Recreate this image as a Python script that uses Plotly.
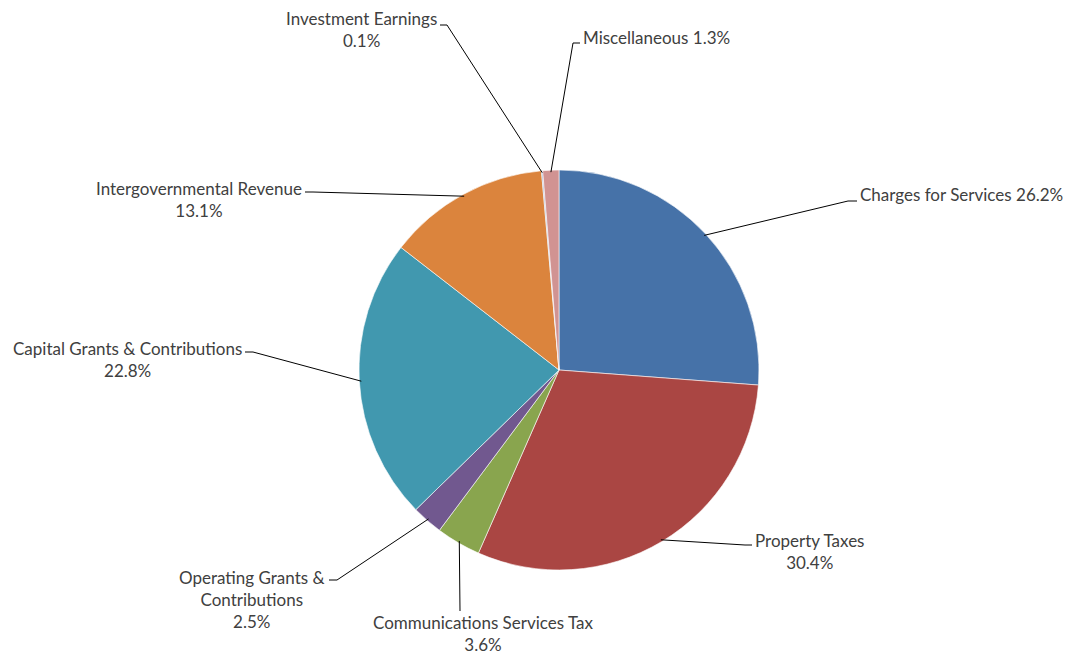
import math
import plotly.graph_objects as go

# ---- data ----
categories = ["Charges for Services", "Property Taxes", "Communications Services Tax",
              "Operating Grants & Contributions", "Capital Grants & Contributions",
              "Intergovernmental Revenue", "Investment Earnings", "Miscellaneous"]
percents = [26.2, 30.4, 3.6, 2.5, 22.8, 13.1, 0.1, 1.3]
label_texts = ["Charges for Services 26.2%", "Property Taxes<br>30.4%",
               "Communications Services Tax<br>3.6%",
               "Operating Grants &<br>Contributions<br>2.5%",
               "Capital Grants & Contributions<br>22.8%",
               "Intergovernmental Revenue<br>13.1%",
               "Investment Earnings<br>0.1%", "Miscellaneous 1.3%"]
colors = ["#4672A8", "#AA4643", "#89A54E", "#71588F", "#4198AF", "#DB843D", "#93A9CF", "#D19392"]

# ---- layout (pixels in the window) ----
W, H = 1065, 655
CX, CY, R = 559, 370, 200
# per label: elbow point, horizontal end point, text position, xanchor, yanchor
label_layout = [
    ((848, 201), (857, 201), (859, 195), "left", "middle"),
    ((745, 545), (752, 545), (754, 551), "left", "middle"),
    ((460, 611), (460, 611), (483, 611), "center", "top"),
    ((337, 580), (329, 580), (326, 599), "right", "middle"),
    ((253, 352), (245, 352), (243, 359), "right", "middle"),
    ((313, 192), (305, 192), (303, 199), "right", "middle"),
    ((447, 25), (440, 25), (438, 30), "right", "middle"),
    ((573, 43), (580, 43), (582, 37), "left", "middle"),
]

def px(x):
    return x / W

def py(y):
    return 1 - y / H

fig = go.Figure(go.Pie(
    labels=categories, values=percents, sort=False, direction="clockwise",
    rotation=0, textinfo="none", hoverinfo="label+percent",
    marker=dict(colors=colors, line=dict(color="white", width=0.6)),
    domain=dict(x=[px(CX - R), px(CX + R)], y=[py(CY + R), py(CY - R)]),
    showlegend=False,
))

shapes, annotations = [], []
total = sum(percents)
cum = 0.0
for val, txt, (elb, hend, tpos, xa, ya) in zip(percents, label_texts, label_layout):
    mid = (cum + val / 2) / total * 2 * math.pi
    cum += val
    ex = CX + (R - 2) * math.sin(mid)
    ey = CY - (R - 2) * math.cos(mid)
    path = f"M {px(ex)},{py(ey)} L {px(elb[0])},{py(elb[1])} L {px(hend[0])},{py(hend[1])}"
    shapes.append(dict(type="path", xref="paper", yref="paper", path=path,
                       line=dict(color="black", width=1)))
    annotations.append(dict(x=px(tpos[0]), y=py(tpos[1]), xref="paper", yref="paper",
                            text=txt, showarrow=False, xanchor=xa, yanchor=ya,
                            align="center", borderpad=0,
                            font=dict(size=17, color="#404040")))

fig.update_layout(
    width=W, height=H, margin=dict(l=0, r=0, t=0, b=0),
    paper_bgcolor="white", plot_bgcolor="white",
    font=dict(family="Lato, 'Open Sans', sans-serif", size=17, color="#404040"),
    shapes=shapes, annotations=annotations,
)
fig.write_html(
    "out.html",
    config={"displayModeBar": False},
    post_script="document.body.style.margin='0';document.body.style.overflow='hidden';"
                "document.documentElement.style.overflow='hidden';",
)
